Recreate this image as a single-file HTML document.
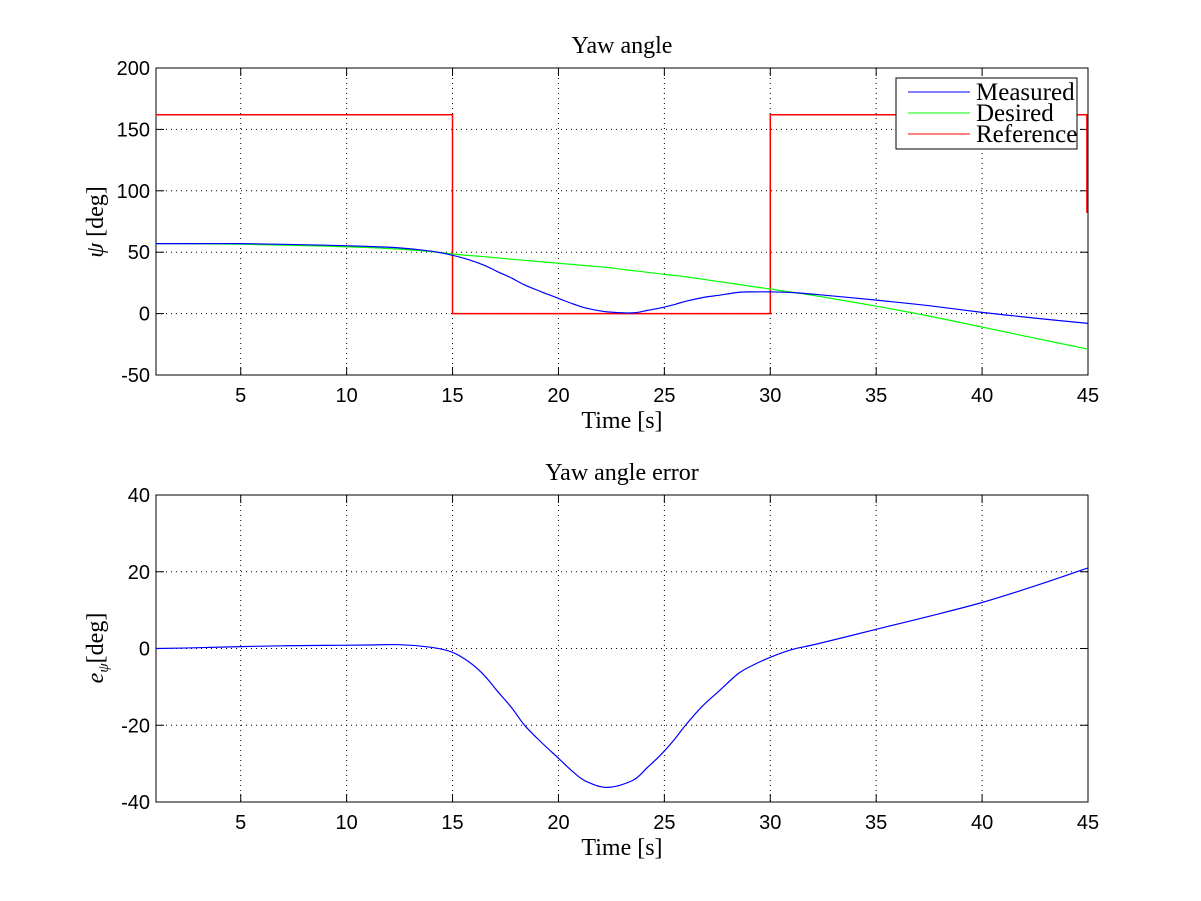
<!DOCTYPE html>
<html><head><meta charset="utf-8"><style>
body{margin:0;background:#fff;}
svg{display:block;}
.tick{font-family:"Liberation Sans",sans-serif;font-size:20px;fill:#000;}
.ser{font-family:"Liberation Serif",serif;fill:#000;}
</style></head><body>
<svg id="chart" width="1201" height="901" viewBox="0 0 1201 901" xmlns="http://www.w3.org/2000/svg"></svg>
<script>
const times = [1,3,5,7,9,11,12.5,14,15,15.8,16.5,17.1,17.8,18.4,19.2,20,20.7,21.3,22.3,23.5,24.2,24.9,25.5,26,26.8,27.6,28.5,29.2,30,31,32.3,35,37.5,40,42.5,45];
const desired = [57,56.8,56.5,55.7,54.9,53.8,52.5,50.5,48.5,47.3,46.3,45.4,44.3,43.4,42.2,41,40,39.1,37.6,35,33.6,32.2,31,30,28,26,23.8,22,20,17.5,14.1,6,-2,-11,-20,-29];
const measured = [57,57,57,56.4,55.7,54.7,53.5,50.8,47.5,43.7,39.3,34.4,28.8,23.4,17.7,12.4,7.8,4.5,1.4,0.6,2.6,4.9,7.5,10,13,15,17.3,17.7,17.7,17.2,15.4,11,6.4,1,-3.7,-8];
const yawError = [0,0.2,0.5,0.7,0.8,0.9,1,0.3,-1,-3.6,-7,-11,-15.5,-20,-24.5,-28.6,-32.2,-34.6,-36.2,-34.4,-31,-27.3,-23.5,-20,-15,-11,-6.5,-4.3,-2.3,-0.3,1.3,5,8.4,12,16.3,21];
const refTimes = [1,15,15,30,30,44.95,44.95];
const refValues = [162,162,0,0,162,162,82];
const xTicks = [5,10,15,20,25,30,35,40,45];
const yTicksTop = [-50,0,50,100,150,200];
const yTicksBot = [-40,-20,0,20,40];

const NS="http://www.w3.org/2000/svg";
const svg=document.getElementById('chart');
function mk(tag,attrs,parent){const e=document.createElementNS(NS,tag);for(const k in attrs)e.setAttribute(k,attrs[k]);(parent||svg).appendChild(e);return e;}
function smoothPath(pts){
  let d='M'+pts[0][0].toFixed(1)+','+pts[0][1].toFixed(1);
  for(let i=0;i<pts.length-1;i++){
    const p0=pts[Math.max(0,i-1)],p1=pts[i],p2=pts[i+1],p3=pts[Math.min(pts.length-1,i+2)];
    const c1=[p1[0]+(p2[0]-p0[0])/6,p1[1]+(p2[1]-p0[1])/6];
    const c2=[p2[0]-(p3[0]-p1[0])/6,p2[1]-(p3[1]-p1[1])/6];
    d+=' C'+c1.map(v=>v.toFixed(1)).join(',')+' '+c2.map(v=>v.toFixed(1)).join(',')+' '+p2.map(v=>v.toFixed(1)).join(',');
  }
  return d;
}

function panel(o){
  const X=v=>o.x0+(v-1)/(45-1)*(o.x1-o.x0);
  const Y=v=>o.y1-(v-o.ymin)/(o.ymax-o.ymin)*(o.y1-o.y0);
  const g=mk('g',{});
  
  
  mk('rect',{x:o.x0,y:o.y0,width:o.x1-o.x0,height:o.y1-o.y0,fill:'#fff'},g);
  xTicks.forEach(t=>{
    const x=X(t);
    if(t<45){const l=mk('line',{x1:x,x2:x,y1:o.y0,y2:o.y1,stroke:'#000','stroke-width':1,'stroke-dasharray':'1,4'},g);
    }
    mk('line',{x1:x,x2:x,y1:o.y1,y2:o.y1-8,stroke:'#000'},g);
    mk('line',{x1:x,x2:x,y1:o.y0,y2:o.y0+8,stroke:'#000'},g);
    const tx=mk('text',{x:x,y:o.y1+27,'text-anchor':'middle',class:'tick'},g);tx.textContent=t;
    
  });
  o.yt.forEach(t=>{
    const y=Y(t);
    if(t>o.ymin&&t<o.ymax){const l=mk('line',{x1:o.x0,x2:o.x1,y1:y,y2:y,stroke:'#000','stroke-width':1,'stroke-dasharray':'1,4'},g);
    }
    mk('line',{x1:o.x0,x2:o.x0+8,y1:y,y2:y,stroke:'#000'},g);
    mk('line',{x1:o.x1,x2:o.x1-8,y1:y,y2:y,stroke:'#000'},g);
    const tx=mk('text',{x:o.x0-6,y:y+7,'text-anchor':'end',class:'tick'},g);tx.textContent=t;
    
  });
  mk('rect',{x:o.x0,y:o.y0,width:o.x1-o.x0,height:o.y1-o.y0,fill:'none',stroke:'#000'},g);
  o.series.forEach(s=>{
    const pts=s.t.map((t,i)=>[X(t),Y(s.v[i])]);
    const d=s.step?pts.map((p,i)=>(i?'L':'M')+p[0].toFixed(1)+','+p[1].toFixed(1)).join(' '):smoothPath(pts);
    const p=mk('path',{d:d,fill:'none',stroke:s.c,'stroke-width':s.w||1.2},g);
    
  });
  const ti=mk('text',{x:(o.x0+o.x1)/2,y:o.y0-15,'text-anchor':'middle',class:'ser','font-size':24},g);ti.textContent=o.title;
  
  const xl=mk('text',{x:(o.x0+o.x1)/2,y:o.y1+53,'text-anchor':'middle',class:'ser','font-size':24},g);xl.textContent='Time [s]';
  
  return {X,Y,g};
}

panel({name:'yaw-angle-panel',x0:156,x1:1088,y0:68,y1:375,ymin:-50,ymax:200,yt:yTicksTop,title:'Yaw angle',
  series:[{name:'reference-line',t:refTimes,v:refValues,c:'#f00',step:true,w:1.5},
          {name:'desired-line',t:times,v:desired,c:'#0f0'},
          {name:'measured-line',t:times,v:measured,c:'#00f'}]});
panel({name:'yaw-error-panel',x0:156,x1:1088,y0:495,y1:802,ymin:-40,ymax:40,yt:yTicksBot,title:'Yaw angle error',
  series:[{name:'error-line',t:times,v:yawError,c:'#00f'}]});

let yl=mk('text',{x:0,y:0,transform:'translate(103,222) rotate(-90)','text-anchor':'middle',class:'ser','font-size':24});
yl.innerHTML='<tspan font-style="italic">ψ</tspan> [deg]';

let yl2=mk('text',{x:0,y:0,transform:'translate(103,648) rotate(-90)','text-anchor':'middle',class:'ser','font-size':24});
yl2.innerHTML='<tspan font-style="italic">e</tspan><tspan font-size="15" font-style="italic" dy="5">ψ</tspan><tspan dy="-5">[deg]</tspan>';


const lg=mk('g',{});

mk('rect',{x:896,y:78,width:181,height:71,fill:'#fff',stroke:'#000'},lg);
[['Measured','#00f',92],['Desired','#0f0',113],['Reference','#f00',134]].forEach(e=>{
  const ent=mk('g',{},lg);
  
  mk('line',{x1:908,x2:970,y1:e[2],y2:e[2],stroke:e[1]},ent);
  const t=mk('text',{x:976,y:e[2]+8,class:'ser','font-size':25},ent);t.textContent=e[0];
});
</script>
</body></html>
